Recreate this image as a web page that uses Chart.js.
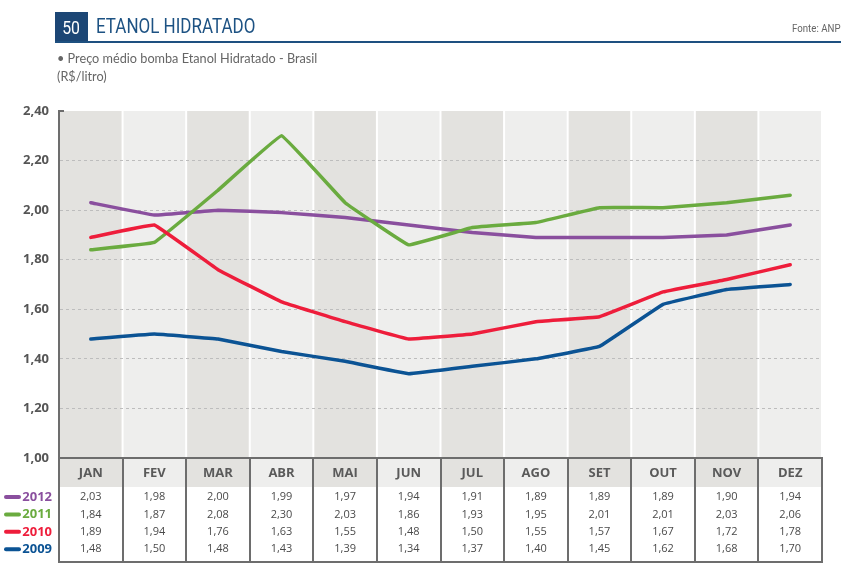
<!DOCTYPE html>
<html>
<head>
<meta charset="utf-8">
<script src="https://cdn.jsdelivr.net/npm/chart.js"></script>
<style>
  body { margin: 0; background: #fff; width: 845px; height: 586px; overflow: hidden; position: relative; font-family: "Open Sans", sans-serif; }
  #wrap { position: absolute; left: 0; top: 0; width: 845px; height: 586px; }
  .num { position: absolute; left: 55px; top: 12px; width: 33px; height: 30px; background: #1c4675; color: #fff;
         font: 18px Roboto, sans-serif; line-height: 31px; text-align: center; }
  .num span { display: inline-block; transform: scaleX(0.88); }
  .title { position: absolute; left: 96px; top: 14px; color: #1d5283; font: 20px Roboto, sans-serif;
           transform: scaleX(0.85); transform-origin: left center; white-space: nowrap; }
  .rule { position: absolute; left: 55px; top: 41px; width: 786px; height: 2px; background: #1e5080; }
  .fonte { position: absolute; left: 792px; top: 22px; color: #666; font: 11px Roboto, sans-serif;
           transform: scaleX(0.88); transform-origin: left center; white-space: nowrap; }
  .sub { position: absolute; left: 57px; top: 49px; color: #666; font: 12.7px Lato, sans-serif; line-height: 18px; }
</style>
</head>
<body>
<div id="wrap"><canvas id="c"></canvas></div>
<div class="num"><span>50</span></div>
<div class="title">ETANOL HIDRATADO</div>
<div class="rule"></div>
<div class="fonte">Fonte: ANP</div>
<div class="sub">• Preço médio bomba Etanol Hidratado - Brasil<br>(R$/litro)</div>
<script>
const months = ['JAN', 'FEV', 'MAR', 'ABR', 'MAI', 'JUN', 'JUL', 'AGO', 'SET', 'OUT', 'NOV', 'DEZ'];
const years = ['2012', '2011', '2010', '2009'];
const v2012 = [2.03, 1.98, 2.00, 1.99, 1.97, 1.94, 1.91, 1.89, 1.89, 1.89, 1.90, 1.94];
const v2011 = [1.84, 1.87, 2.08, 2.30, 2.03, 1.86, 1.93, 1.95, 2.01, 2.01, 2.03, 2.06];
const v2010 = [1.89, 1.94, 1.76, 1.63, 1.55, 1.48, 1.50, 1.55, 1.57, 1.67, 1.72, 1.78];
const v2009 = [1.48, 1.50, 1.48, 1.43, 1.39, 1.34, 1.37, 1.40, 1.45, 1.62, 1.68, 1.70];
const colors = ['#8a4f9e', '#6aab3f', '#ee1d3b', '#0b5394'];
const series = [v2012, v2011, v2010, v2009];

const bandDark = '#e3e2df';
const bandLight = '#eeeeed';
const borderGrey = '#6d6d6d';
const fmt = v => v.toFixed(2).replace('.', ',');

// column bands behind the grid
const bandsPlugin = {
    id: 'bands',
    beforeDraw(chart) {
        const { ctx, chartArea: a } = chart;
        const colW = (a.right - a.left) / months.length;
        ctx.save();
        months.forEach((m, i) => {
            ctx.fillStyle = i % 2 === 0 ? bandDark : bandLight;
            const x0 = a.left + i * colW + (i > 0 ? 1 : 0);
            ctx.fillRect(x0, a.top, colW - (i > 0 ? 2 : 1), a.bottom - a.top);
        });
        ctx.restore();
    }
};

// table of values + legend under the plot
const tablePlugin = {
    id: 'table',
    afterDraw(chart) {
        const { ctx, chartArea: a } = chart;
        const colW = (a.right - a.left) / months.length;
        const top = a.bottom;
        const headH = 29;
        const rowH = 17.4;
        const bottom = 562;
        ctx.save();
        // header cells
        months.forEach((m, i) => {
            ctx.fillStyle = i % 2 === 0 ? bandDark : bandLight;
            ctx.fillRect(a.left + i * colW, top, colW, headH);
        });
        ctx.fillStyle = '#fff';
        ctx.fillRect(a.left, top + headH, a.right - a.left, bottom - top - headH);

        ctx.textAlign = 'center';
        ctx.textBaseline = 'middle';
        ctx.fillStyle = '#5a5a5a';
        ctx.font = 'bold 13px "Open Sans", sans-serif';
        months.forEach((m, i) => {
            ctx.fillText(m, chart.scales.x.getPixelForValue(i), top + headH / 2 + 1);
        });
        ctx.font = '11px "Open Sans", sans-serif';
        ctx.fillStyle = '#4a4a4a';
        series.forEach((vals, r) => {
            const y = top + 39 + r * rowH;
            vals.forEach((v, i) => {
                ctx.fillText(fmt(v), chart.scales.x.getPixelForValue(i), y);
            });
        });

        // borders
        ctx.strokeStyle = borderGrey;
        ctx.lineWidth = 2;
        ctx.strokeRect(a.left, top, a.right - a.left, bottom - top);
        for (let i = 1; i < months.length; i++) {
            const x = Math.round(a.left + i * colW);
            ctx.beginPath();
            ctx.moveTo(x, top);
            ctx.lineTo(x, bottom);
            ctx.stroke();
        }
        // small tick at top of y axis
        ctx.beginPath();
        ctx.moveTo(a.left - 1, a.top);
        ctx.lineTo(a.left + 5, a.top);
        ctx.stroke();

        // legend
        ctx.textAlign = 'right';
        ctx.font = 'bold 13px "Open Sans", sans-serif';
        years.forEach((yr, r) => {
            const y = top + 39 + r * rowH;
            ctx.strokeStyle = colors[r];
            ctx.lineWidth = 4;
            ctx.lineCap = 'round';
            ctx.beginPath();
            ctx.moveTo(6, y);
            ctx.lineTo(19, y);
            ctx.stroke();
            ctx.fillStyle = colors[r];
            ctx.fillText(yr, 52, y);
        });
        ctx.restore();
    }
};

new Chart(document.getElementById('c'), {
    type: 'line',
    data: {
        labels: months,
        datasets: years.map((yr, r) => ({
            label: yr,
            data: series[r],
            borderColor: colors[r],
            backgroundColor: colors[r],
            borderWidth: 3.5,
            pointRadius: 0,
            tension: 0.05,
            borderCapStyle: 'round',
            borderJoinStyle: 'round',
            fill: false
        })).reverse()
    },
    options: {
        responsive: true,
        maintainAspectRatio: false,
        animation: false,
        layout: { padding: { top: 111, right: 23, bottom: 128, left: 0 } },
        plugins: { legend: { display: false }, tooltip: { enabled: false } },
        scales: {
            x: { display: false, offset: true },
            y: {
                min: 1, max: 2.4,
                afterFit: s => { s.width = 59; },
                ticks: {
                    stepSize: 0.2,
                    padding: 10,
                    color: '#555',
                    font: { family: '"Open Sans", sans-serif', size: 13, weight: 'bold' },
                    callback: v => fmt(v)
                },
                grid: {
                    drawTicks: false,
                    color: ctx => (ctx.tick && (Math.abs(ctx.tick.value - 1) < 0.01 || Math.abs(ctx.tick.value - 2.4) < 0.01)) ? 'rgba(0,0,0,0)' : '#bdbdbd'
                },
                border: { color: borderGrey, width: 2, dash: [3, 3], dashOffset: 0 }
            }
        }
    },
    plugins: [bandsPlugin, tablePlugin]
});
</script>
</body>
</html>
